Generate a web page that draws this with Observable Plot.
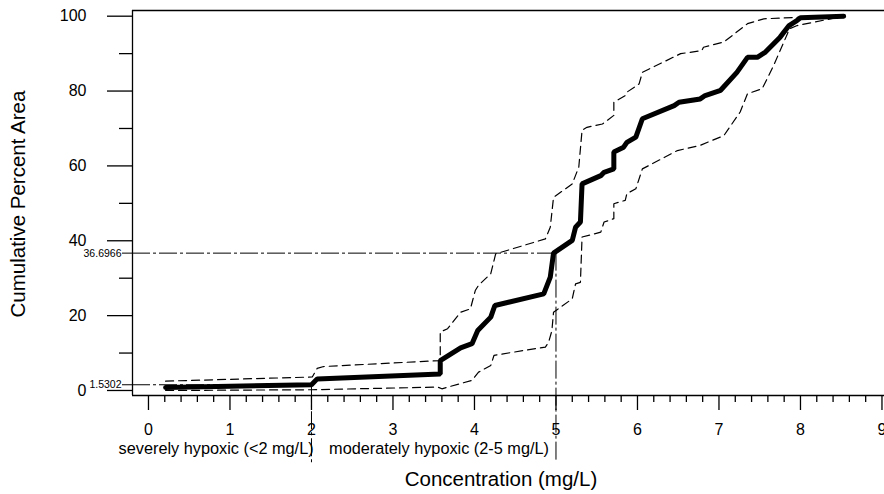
<!DOCTYPE html>
<html>
<head>
<meta charset="utf-8">
<script src="https://cdn.jsdelivr.net/npm/d3@7"></script>
<script src="https://cdn.jsdelivr.net/npm/@observablehq/plot@0.6"></script>
<style>
  html, body { margin: 0; padding: 0; background: #fff; }
  #chart svg { display: block; }
</style>
</head>
<body>
<div id="chart"></div>
<script>
// ---- data ----
// Cumulative distribution (thick solid line)
const cdfX = [0.21, 2.0, 2.07, 3.58, 3.58, 3.83, 3.97, 4.04, 4.20, 4.25, 4.85, 4.93, 4.97, 5.20, 5.24, 5.30, 5.32, 5.55, 5.59, 5.71, 5.71, 5.83, 5.87, 5.98, 6.06, 6.45, 6.51, 6.77, 6.83, 7.02, 7.22, 7.35, 7.47, 7.57, 7.75, 7.86, 7.96, 8.00, 8.53];
const cdfY = [0.8, 1.53, 3.1, 4.4, 8.0, 11.4, 12.5, 16.0, 19.6, 22.7, 25.8, 30.3, 36.7, 40.1, 43.6, 45.0, 55.2, 57.4, 58.3, 59.2, 63.7, 65.0, 66.3, 67.7, 72.6, 76.1, 77.0, 77.9, 78.8, 80.2, 85.0, 89.0, 89.0, 90.4, 94.4, 97.5, 98.9, 99.6, 100];
// Upper confidence bound (dashed)
const upperX = [0.21, 2.01, 2.07, 2.15, 3.58, 3.58, 3.67, 3.83, 3.95, 4.01, 4.05, 4.20, 4.26, 4.87, 4.93, 4.97, 5.20, 5.28, 5.32, 5.38, 5.57, 5.71, 5.71, 5.85, 5.87, 6.02, 6.06, 6.53, 6.79, 6.81, 7.06, 7.35, 7.55, 7.96, 8.53];
const upperY = [2.5, 3.6, 5.9, 6.4, 8.0, 15.6, 16.5, 20.9, 21.8, 26.7, 28.1, 31.2, 36.5, 40.5, 43.6, 51.6, 55.2, 59.7, 69.5, 70.3, 71.2, 73.5, 77.0, 78.8, 79.7, 81.9, 85.0, 90.0, 90.8, 91.7, 93.1, 98.0, 99.3, 99.7, 100];
// Lower confidence bound (dashed)
const lowerX = [0.21, 2.0, 3.55, 3.60, 3.97, 4.05, 4.20, 4.24, 4.87, 4.91, 4.95, 4.97, 5.20, 5.24, 5.30, 5.32, 5.55, 5.59, 5.71, 5.71, 5.85, 5.87, 5.98, 6.06, 6.49, 6.77, 7.06, 7.26, 7.35, 7.53, 7.67, 7.84, 7.86, 7.96, 8.53];
const lowerY = [0.0, 0.2, 0.9, 0.45, 2.7, 4.9, 6.7, 9.4, 11.6, 12.9, 16.0, 20.9, 24.5, 28.5, 28.9, 41.0, 42.3, 45.0, 45.9, 49.9, 50.8, 52.6, 53.9, 59.2, 64.1, 65.5, 68.1, 74.4, 79.3, 80.6, 86.8, 95.3, 96.6, 97.5, 100];

// Reference thresholds (concentration, cumulative percent)
const refConc = [2, 5];
const refPct = [1.5302, 36.6966];

// Category labels under the axis
const categories = ["severely hypoxic (<2 mg/L)", "moderately hypoxic (2-5 mg/L)"];

// Tick values
const yMajor = [0, 20, 40, 60, 80, 100];
const yMinor = [10, 30, 50, 70, 90];
const xMajor = [0, 1, 2, 3, 4, 5, 6, 7, 8, 9];
const xMinor = d3.range(0, 46).map(i => +(i * 0.2).toFixed(1)).filter(v => v % 1 !== 0 && v < 9);

const xTitle = "Concentration (mg/L)";
const yTitle = "Cumulative Percent Area";

// ---- build tables ----
const toRows = (xs, ys) => xs.map((x, i) => ({x, y: ys[i]}));
const cdf = toRows(cdfX, cdfY);
const upper = toRows(upperX, upperY);
const lower = toRows(lowerX, lowerY);
const refs = refConc.map((c, i) => ({c, p: refPct[i]}));

// ---- layout ----
const W = 884, H = 494, mL = 132, mR = 0, mT = 10, mB = 99;
const xMin = -0.196, xMax = 9.031, yMin = -1.34, yMax = 101.52;
const ux = (xMax - xMin) / (W - mL - mR);   // data units per px (x)
const uy = (yMax - yMin) / (H - mT - mB);   // data units per px (y)
const font = "'Liberation Sans', Arial, Helvetica, sans-serif";
const dashDot = "18,3,3,3";
const catX = [0.83, 3.565];

const tickY = (vals, len, sw) => Plot.ruleY(vals, {y: d => d, x1: xMin - len * ux, x2: xMin, stroke: "#000", strokeWidth: sw});
const tickX = (vals, len, sw) => Plot.ruleX(vals, {x: d => d, y1: yMin - len * uy, y2: yMin, stroke: "#000", strokeWidth: sw});

const chart = Plot.plot({
  width: W,
  height: H,
  marginLeft: mL,
  marginRight: mR,
  marginTop: mT,
  marginBottom: mB,
  x: {domain: [xMin, xMax], axis: null},
  y: {domain: [yMin, yMax], axis: null},
  style: {fontFamily: font, color: "#000", background: "#fff", overflow: "visible"},
  marks: [
    // frame (left, top, bottom)
    Plot.ruleX([xMin], {y1: yMin, y2: yMax, stroke: "#000", strokeWidth: 1.3}),
    Plot.ruleY([yMin, yMax], {x1: xMin, x2: xMax, stroke: "#000", strokeWidth: 1.3}),

    // y axis ticks and labels
    tickY(yMajor, 25, 1.3),
    tickY(yMinor, 13, 1.3),
    tickY(refPct, 10, 1),
    Plot.text(yMajor, {x: xMin, y: d => d, text: d => String(d), dx: -46, textAnchor: "end", fontSize: 16, fill: "#000"}),
    Plot.text(refPct, {x: xMin, y: d => d, text: d => String(d), dx: -11, textAnchor: "end", fontSize: 10.5, fill: "#000"}),

    // x axis ticks and labels
    tickX(xMajor, 15, 1.3),
    tickX(xMinor, 7, 1.3),
    Plot.text(xMajor, {x: d => d, y: yMin, text: d => String(d), dy: 28, lineAnchor: "top", fontSize: 16, fill: "#000"}),

    // reference dash-dot lines
    Plot.ruleY(refs, {y: "p", x1: xMin, x2: "c", stroke: "#000", strokeWidth: 1, strokeDasharray: dashDot}),
    Plot.ruleX(refs, {x: "c", y1: "p", y2: -19.4, stroke: "#000", strokeWidth: 1, strokeDasharray: dashDot}),

    // confidence bounds
    Plot.line(upper, {x: "x", y: "y", stroke: "#000", strokeWidth: 1.2, strokeDasharray: "8,5"}),
    Plot.line(lower, {x: "x", y: "y", stroke: "#000", strokeWidth: 1.2, strokeDasharray: "8,5"}),
    // cumulative distribution
    Plot.line(cdf, {x: "x", y: "y", stroke: "#000", strokeWidth: 5, strokeLinejoin: "miter"}),

    // category labels
    Plot.text(categories, {x: (d, i) => catX[i], y: -17.1, text: d => d, lineAnchor: "bottom", fontSize: 16.3, fill: "#000"}),

    // axis titles
    Plot.text([xTitle], {x: 4.325, y: -25.4, text: d => d, lineAnchor: "bottom", fontSize: 20.5, fill: "#000"}),
    Plot.text([yTitle], {x: -1.509, y: 49.8, text: d => d, rotate: -90, lineAnchor: "bottom", fontSize: 20.5, fill: "#000"})
  ]
});

document.getElementById("chart").append(chart);
</script>
</body>
</html>
